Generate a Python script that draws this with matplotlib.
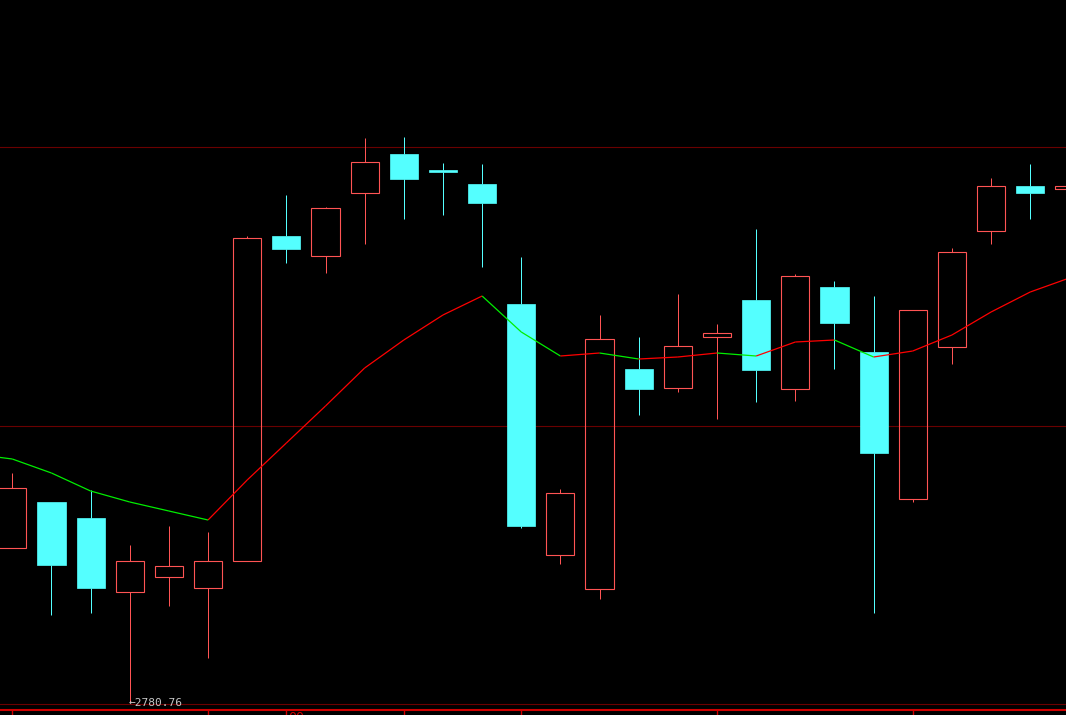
import matplotlib
matplotlib.use('Agg')
import matplotlib.pyplot as plt
from matplotlib.collections import LineCollection
import numpy as np

# daily candles (open, high, low, close)
opens = [2796.26, 2800.86, 2799.26, 2791.86, 2793.36, 2792.26, 2794.96, 2827.46,
         2825.46, 2831.76, 2835.66, 2834.06, 2832.66, 2820.66, 2795.56, 2792.16,
         2814.16, 2812.26, 2817.36, 2821.06, 2812.16, 2822.36, 2815.86, 2801.16,
         2816.36, 2827.96, 2832.46, 2832.16]
highs = [2803.76, 2800.86, 2802.06, 2796.56, 2798.46, 2797.86, 2827.46, 2831.56,
         2830.36, 2837.26, 2837.36, 2834.76, 2834.66, 2825.36, 2802.16, 2819.56,
         2817.36, 2821.66, 2818.66, 2828.16, 2823.66, 2822.96, 2821.46, 2820.06,
         2826.26, 2833.26, 2834.66, 2832.46]
lows = [2796.26, 2789.56, 2789.76, 2780.76, 2790.46, 2785.26, 2794.96, 2824.76,
        2823.76, 2826.66, 2829.16, 2829.56, 2824.36, 2798.26, 2794.66, 2791.16,
        2809.56, 2811.86, 2809.16, 2810.86, 2810.96, 2814.16, 2789.76, 2800.86,
        2814.66, 2826.66, 2829.16, 2832.16]
closes = [2802.26, 2794.56, 2792.26, 2794.96, 2794.46, 2794.96, 2827.26, 2826.16,
          2830.26, 2834.86, 2833.16, 2833.86, 2830.76, 2798.46, 2801.76, 2817.16,
          2812.16, 2816.46, 2817.76, 2814.06, 2823.46, 2818.76, 2805.76, 2820.06,
          2825.86, 2832.46, 2831.76, 2832.46]

# moving average, first value belongs to the bar before the visible window
ma_values = [2805.66, 2805.16, 2803.76, 2801.96, 2800.86, 2799.96, 2799.06, 2803.06,
             2806.76, 2810.46, 2814.26, 2817.06, 2819.56, 2821.46, 2817.86, 2815.46,
             2815.76, 2815.16, 2815.36, 2815.76, 2815.46, 2816.86, 2817.06, 2815.36,
             2815.96, 2817.56, 2819.86, 2821.86, 2823.26]

grid_levels = [2836.36, 2808.46, 2780.66]
tick_bars = [0, 5, 10, 13, 18, 23]
label_bar = 7
label_text = '00'
low_text = '2780.76'

up_col = '#FF5454'
down_col = '#54FFFF'

fig = plt.figure(figsize=(10.66, 7.15), dpi=100, facecolor='black')
ax = fig.add_axes([0, 5 / 715, 1, 710 / 715])
ax.set_facecolor('black')

for lvl in grid_levels:
    ax.axhline(lvl, color='#6A0000', linewidth=0.8, zorder=1)

x = np.arange(len(opens))
o = np.array(opens)
c = np.array(closes)
h = np.array(highs)
l = np.array(lows)
up = c >= o
top = np.maximum(o, c)
bot = np.minimum(o, c)

# wicks (split so they do not cross hollow bodies)
for i in x:
    col = up_col if up[i] else down_col
    if h[i] > top[i]:
        ax.vlines(i, top[i], h[i], color=col, linewidth=0.72, zorder=2)
    if l[i] < bot[i]:
        ax.vlines(i, l[i], bot[i], color=col, linewidth=0.72, zorder=2)

w = 0.72
ax.bar(x[up], (top - bot)[up], w, bottom=bot[up], facecolor='none',
       edgecolor=up_col, linewidth=0.8, zorder=3)
ax.bar(x[~up], np.maximum((top - bot)[~up], 0.15), w, bottom=bot[~up],
       facecolor=down_col, edgecolor=down_col, linewidth=0.5, zorder=3)

# MA line: red while rising, green while falling
mx = np.arange(-1, len(ma_values) - 1)
ma = np.array(ma_values)
segs = [[(mx[i], ma[i]), (mx[i + 1], ma[i + 1])] for i in range(len(ma) - 1)]
cols = ['#FF0000' if ma[i + 1] >= ma[i] else '#00EE00' for i in range(len(ma) - 1)]
ax.add_collection(LineCollection(segs, colors=cols, linewidths=0.9, zorder=4))

# lowest price marker
lo = int(np.argmin(l))
ax.text(lo - 0.02, l[lo], '\u2190' + low_text, color='#C8C8C8', fontsize=8,
        family='DejaVu Sans Mono', ha='left', va='center', zorder=5)

ax.set_xlim(-0.314, 26.914)
ax.set_ylim(2780.06, 2851.06)

for s in ['top', 'left', 'right']:
    ax.spines[s].set_visible(False)
ax.spines['bottom'].set_color('#D00000')
ax.spines['bottom'].set_linewidth(1.5)
ax.set_yticks([])
ax.set_xticks(tick_bars + [label_bar])
ax.set_xticklabels([])
ax.tick_params(axis='x', direction='out', length=4, width=1, colors='#D00000')

# date label at the bottom edge, mostly below the visible area as in the source
fig.text((12.3 + 39.15 * label_bar + 2) / 1066, 1 - 711 / 715, label_text,
         color='#D00000', fontsize=9, ha='left', va='top')

fig.savefig('out.png', dpi=100, facecolor='black')
